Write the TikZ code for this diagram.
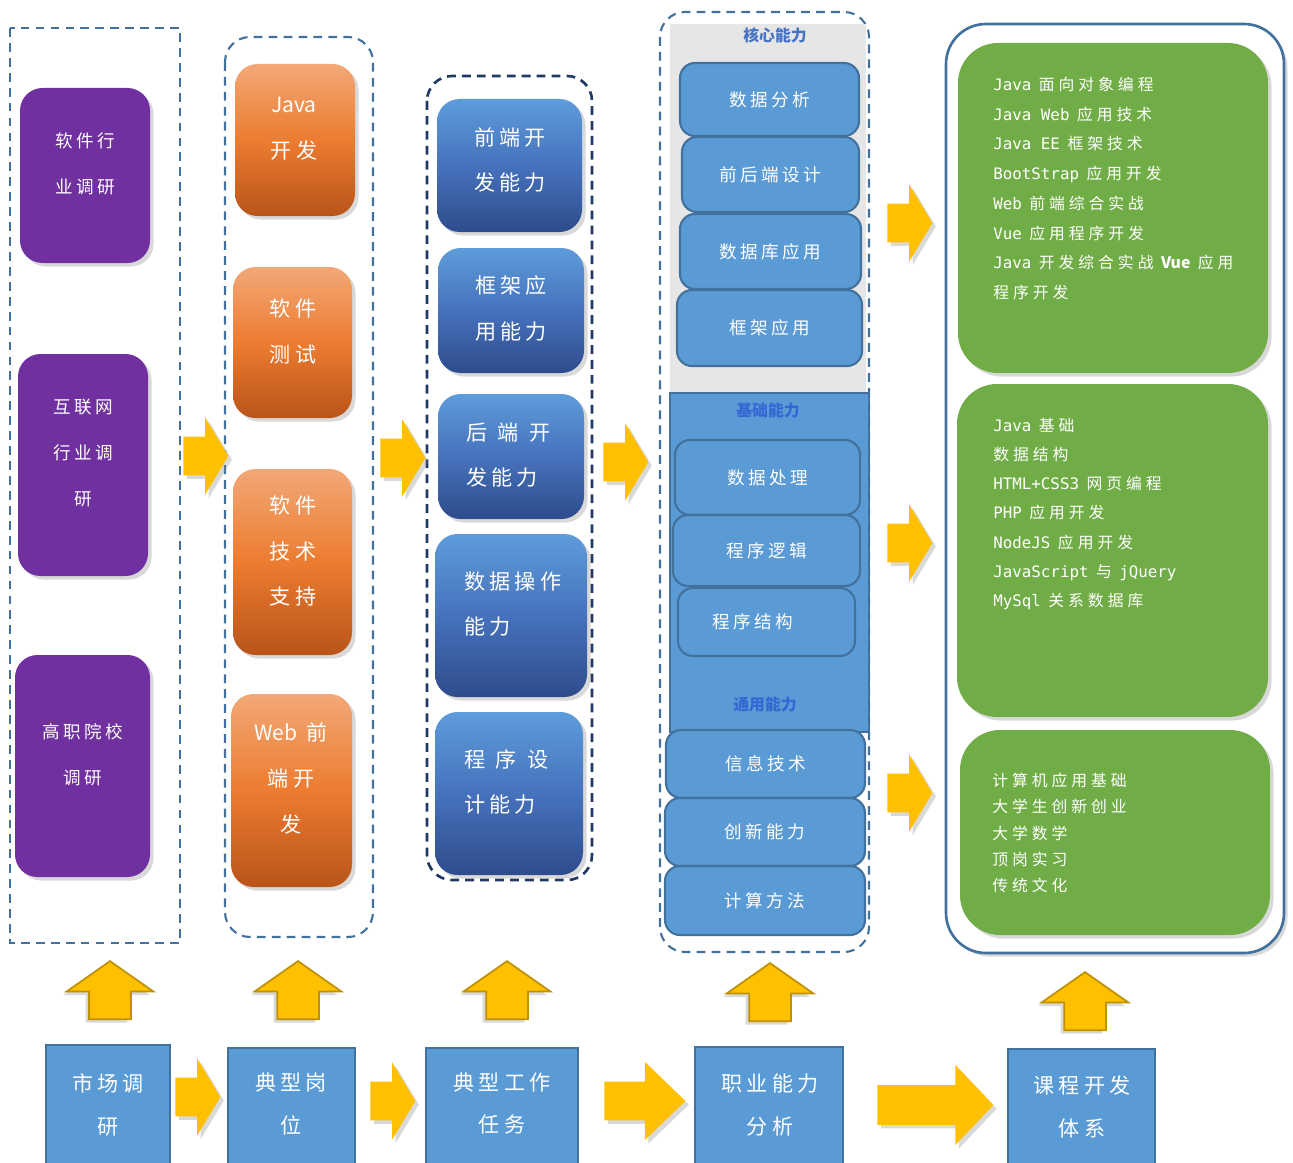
\documentclass[tikz,border=0pt]{standalone}
\usepackage{fontspec}
\setmainfont{Noto Sans CJK SC}
\newfontfamily\cjk[LetterSpace=20]{Noto Sans CJK SC}
\newfontfamily\cjkg[LetterSpace=25]{Noto Sans CJK SC}
\newfontfamily\latn{Noto Sans CJK SC}
\newfontfamily\mono{DejaVu Sans Mono}
\newcommand{\enw}[1]{{\latn #1}}
\newcommand{\enm}[1]{{\mono #1}}
\usetikzlibrary{positioning, shapes.arrows, shadows, fit}

\definecolor{lineblue}{HTML}{41719C}
\definecolor{navy}{HTML}{203864}
\definecolor{purp}{HTML}{7030A0}
\definecolor{orlight}{HTML}{F2A877}
\definecolor{ormid}{HTML}{EC7C30}
\definecolor{ordark}{HTML}{B9541A}
\definecolor{bllight}{HTML}{5E9CDA}
\definecolor{blmid}{HTML}{4672BC}
\definecolor{bldark}{HTML}{2E4C8C}
\definecolor{boxblue}{HTML}{5B9BD5}
\definecolor{bggray}{HTML}{E7E6E6}
\definecolor{grn}{HTML}{70AD47}
\definecolor{yel}{HTML}{FFC000}
\definecolor{yeldark}{HTML}{BF9000}
\definecolor{ttlblue}{HTML}{4472C4}
\definecolor{ttlblue2}{HTML}{3467D4}

\tikzset{
  shad/.style={drop shadow={shadow xshift=2pt, shadow yshift=-2pt, opacity=0.3}},
  frame/.style={draw=lineblue, line width=1.2pt, dash pattern=on 5pt off 3.5pt},
  pbox/.style={fit={#1}, inner sep=0pt, fill=purp, rounded corners=0.45cm, shad},
  obox/.style={fit={#1}, inner sep=0pt, rounded corners=0.45cm, shad,
    top color=orlight, bottom color=ordark, middle color=ormid},
  bbox/.style={fit={#1}, inner sep=0pt, rounded corners=0.45cm, shad,
    top color=bllight, bottom color=bldark, middle color=blmid},
  cbox/.style={fit={#1}, inner sep=0pt, fill=boxblue, draw=lineblue, line width=1.2pt,
    rounded corners=0.3cm},
  ctxt/.style={text=white, inner sep=0pt, font=\cjk\fontsize{10}{12}\selectfont},
  gbox/.style={fit={#1}, inner sep=0pt, fill=grn, rounded corners=0.8cm, shad},
  sq/.style={fit={#1}, inner sep=0pt, fill=boxblue, draw=lineblue, line width=1.2pt},
  wtxt/.style={text=white, align=center, inner sep=0pt},
  ptxt/.style={wtxt, font=\cjk\fontsize{10}{26}\selectfont},
  btxt/.style={wtxt, font=\cjk\fontsize{12}{26}\selectfont},
  stxt/.style={wtxt, font=\cjk\fontsize{12}{24.4}\selectfont},
  gtxt/.style={text=white, align=left, anchor=west, inner sep=0pt},
  ttl/.style={inner sep=0pt, font=\bfseries\fontsize{9}{11}\selectfont},
  rarr/.style={single arrow, anchor=tail, fill=yel, inner xsep=0pt, inner ysep=0.38cm, shad,
    minimum height=0.9cm, minimum width=1.54cm,
    single arrow head extend=0.39cm, single arrow tip angle=118},
  uarr/.style={single arrow, rotate=90, anchor=tail, fill=yel, draw=yeldark, line width=1pt,
    inner xsep=0pt, inner ysep=0.4cm, minimum height=1.16cm, minimum width=1.7cm,
    single arrow head extend=0.45cm, single arrow tip angle=110,
    drop shadow={shadow xshift=-2pt, shadow yshift=-2pt, opacity=0.3}}
}

\begin{document}
\begin{tikzpicture}[x=0.02cm, y=-0.02cm]
  \useasboundingbox (0,0) rectangle (1293,1162);
  % frames
  \draw[frame] (10,28) rectangle (180,943);
  \draw[frame, rounded corners=0.5cm] (225,37) rectangle (373,937);
  \draw[frame, draw=navy, line width=1.5pt, rounded corners=0.5cm] (427,76) rectangle (592,880);
  \draw[frame, rounded corners=0.5cm] (660,12) rectangle (869,952);
  \draw[draw=lineblue, line width=1.5pt, fill=white, rounded corners=0.8cm, shad] (946,24) rectangle (1284,953);

  % research
  \node[pbox={(20,88) (150,263)}] (p1) {};
  \node[ptxt] (p1t) at (85,164) {软件行\\业调研};
  \node[pbox={(18,354) (148,576)}] (p2) {};
  \node[ptxt] (p2t) at (83,453) {互联网\\行业调\\研};
  \node[pbox={(15,655) (150,877)}] (p3) {};
  \node[ptxt] (p3t) at (83,755) {高职院校\\调研};

  % posts
  \node[obox={(235,64) (355,216)}] (o1) {};
  \node[btxt] (o1t) at (294,128.5) {\enw{Java}\\开发};
  \node[obox={(233,267) (352,418)}] (o2) {};
  \node[btxt] (o2t) at (293,331.5) {软件\\测试};
  \node[obox={(233,469) (352,655)}] (o3) {};
  \node[btxt] (o3t) at (293,551) {软件\\技术\\支持};
  \node[obox={(231,694) (352,887)}] (o4) {};
  \node[btxt] (o4t) at (291,778.5) {\enw{Web} 前\\端开\\发};

  % tasks
  \node[bbox={(437,99) (582,232)}] (b1) {};
  \node[btxt] (b1t) at (510,160) {前端开\\发能力};
  \node[bbox={(438,248) (584,373)}] (b2) {};
  \node[btxt] (b2t) at (511,308.5) {框架应\\用能力};
  \node[bbox={(438,394) (584,519)}] (b3) {};
  \node[btxt, align=left, anchor=west] (b3t) at (466,455) {后\enspace 端\enspace 开\\发能力};
  \node[bbox={(435,534) (587,697)}] (b4) {};
  \node[btxt, align=left, anchor=west] (b4t) at (464,604) {数据操作\\能力};
  \node[bbox={(435,712) (583,875)}] (b5) {};
  \node[btxt, align=left, anchor=west] (b5t) at (464,782) {程\enspace 序\enspace 设\\计能力};

  % abilities
  \fill[bggray] (670,24) rectangle (866,393);
  \node[ttl, text=ttlblue] (core) at (775,35) {核心能力};
  \node[cbox={(680,63) (859,136)}, label={[ctxt]center:数据分析}] (c1) {};
  \node[cbox={(682,137) (859,212)}, label={[ctxt]center:前后端设计}] (c2) {};
  \node[cbox={(680,214) (861,289)}, label={[ctxt]center:数据库应用}] (c3) {};
  \node[cbox={(677,290) (862,366)}, label={[ctxt]center:框架应用}] (c4) {};
  \draw[fill=boxblue, draw=lineblue, line width=1pt] (670,393) rectangle (869,732);
  \node[ttl, text=ttlblue2] (base) at (768,411) {基础能力};
  \node[cbox={(675,440) (860,515)}, label={[ctxt]center:数据处理}] (c5) {};
  \node[cbox={(673,515) (860,586)}, label={[ctxt]center:程序逻辑}] (c6) {};
  \node[cbox={(678,588) (855,656)}, label={[ctxt, xshift=-0.27cm]center:程序结构}] (c7) {};
  \node[ttl, text=ttlblue2] (gen) at (765,705) {通用能力};
  \node[cbox={(666,730) (865,798)}, label={[ctxt]center:信息技术}] (c8) {};
  \node[cbox={(665,798) (865,866)}, label={[ctxt]center:创新能力}] (c9) {};
  \node[cbox={(665,866) (865,935)}, label={[ctxt]center:计算方法}] (c10) {};

  % courses
  \node[gbox={(958,43) (1268,373)}] (g1) {};
  \node[gtxt, font=\cjkg\fontsize{9}{16.9}\selectfont] (g1t) at (993,188.5)
    {\enm{Java} 面向对象编程\\\enm{Java Web} 应用技术\\\enm{Java EE} 框架技术\\
     \enm{BootStrap} 应用开发\\\enm{Web} 前端综合实战\\\enm{Vue} 应用程序开发\\
     \enm{Java} 开发综合实战 {\latn\bfseries Vue} 应用\\程序开发};
  \node[gbox={(957,384) (1268,717)}] (g2) {};
  \node[gtxt, font=\cjkg\fontsize{9}{16.6}\selectfont] (g2t) at (993,514)
    {\enm{Java} 基础\\数据结构\\\enm{HTML+CSS3} 网页编程\\\enm{PHP} 应用开发\\
     \enm{NodeJS} 应用开发\\\enm{JavaScript} 与 \enm{jQuery}\\\enm{MySql} 关系数据库};
  \node[gbox={(960,730) (1270,935)}] (g3) {};
  \node[gtxt, font=\cjkg\fontsize{9}{15}\selectfont] (g3t) at (992,833)
    {计算机应用基础\\大学生创新创业\\大学数学\\顶岗实习\\传统文化};

  % column arrows
  \node[rarr] (r1) at (183,456) {};
  \node[rarr] (r2) at (380,458) {};
  \node[rarr] (r3) at (603,462) {};
  \node[rarr] (r4) at (887,223) {};
  \node[rarr] (r5) at (887,543) {};
  \node[rarr] (r6) at (887,793) {};

  % up arrows
  \node[uarr] (u1) at (110,1020) {};
  \node[uarr] (u2) at (298,1020) {};
  \node[uarr] (u3) at (507,1020) {};
  \node[uarr] (u4) at (770,1022) {};
  \node[uarr] (u5) at (1085,1031) {};

  % process
  \node[sq={(46,1045) (170,1175)}] (s1) {};
  \node[stxt] (s1t) at (108,1104.5) {市场调\\研};
  \node[sq={(228,1048) (355,1175)}] (s2) {};
  \node[stxt] (s2t) at (291,1103.5) {典型岗\\位};
  \node[sq={(426,1048) (578,1175)}] (s3) {};
  \node[stxt] (s3t) at (502,1103.5) {典型工作\\任务};
  \node[sq={(695,1047) (843,1175)}] (s4) {};
  \node[stxt] (s4t) at (770,1105) {职业能力\\分析};
  \node[sq={(1008,1049) (1155,1175)}] (s5) {};
  \node[stxt] (s5t) at (1082,1106.5) {课程开发\\体系};
  \node[rarr] (a1) at (175,1097) {};
  \node[rarr] (a2) at (370,1101) {};
  \node[rarr, minimum height=1.62cm, minimum width=1.56cm, single arrow tip angle=88] (a3) at (604,1101) {};
  \node[rarr, minimum height=2.32cm, minimum width=1.6cm, single arrow tip angle=93] (a4) at (877,1105) {};
\end{tikzpicture}
\end{document}
